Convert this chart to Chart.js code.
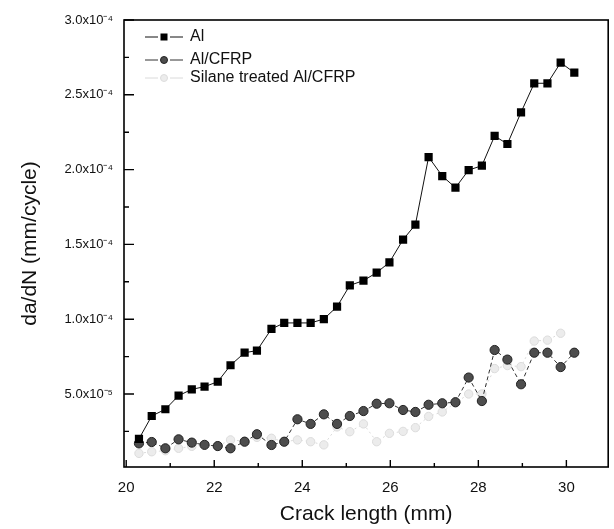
<!DOCTYPE html>
<html>
<head>
<meta charset="utf-8">
<script src="https://cdn.jsdelivr.net/npm/chart.js@4.4.1/dist/chart.umd.min.js"></script>
<style>
  html, body { margin: 0; padding: 0; background: #fff; }
  #wrap { width: 614px; height: 529px; position: relative; }
</style>
</head>
<body>
<div id="wrap"><canvas id="c" width="614" height="529"></canvas></div>
<script>
// ---- data ----
const crackLength = [20.29,20.58,20.89,21.19,21.49,21.78,22.08,22.37,22.69,22.97,23.30,23.59,23.89,24.19,24.49,24.79,25.08,25.39,25.69,25.98,26.29,26.57,26.87,27.18,27.48,27.78,28.08,28.37,28.66,28.97,29.27,29.57,29.87,30.18];
const rateAl = [2.0e-5,3.53e-5,3.98e-5,4.89e-5,5.31e-5,5.49e-5,5.82e-5,6.92e-5,7.76e-5,7.90e-5,9.35e-5,9.75e-5,9.75e-5,9.75e-5,1.001e-4,1.084e-4,1.226e-4,1.258e-4,1.311e-4,1.380e-4,1.532e-4,1.632e-4,2.084e-4,1.957e-4,1.879e-4,1.997e-4,2.026e-4,2.225e-4,2.171e-4,2.383e-4,2.577e-4,2.577e-4,2.715e-4,2.648e-4];
const rateAlCFRP = [1.70e-5,1.79e-5,1.37e-5,1.97e-5,1.75e-5,1.60e-5,1.52e-5,1.37e-5,1.81e-5,2.31e-5,1.59e-5,1.81e-5,3.31e-5,3.00e-5,3.64e-5,3.00e-5,3.53e-5,3.86e-5,4.35e-5,4.38e-5,3.93e-5,3.80e-5,4.28e-5,4.38e-5,4.45e-5,6.10e-5,4.53e-5,7.94e-5,7.30e-5,5.65e-5,7.76e-5,7.76e-5,6.80e-5,7.76e-5];
const rateSilane = [1.03e-5,1.14e-5,1.21e-5,1.37e-5,1.50e-5,1.59e-5,1.52e-5,1.93e-5,1.85e-5,2.10e-5,2.04e-5,1.81e-5,1.93e-5,1.81e-5,1.60e-5,2.80e-5,2.48e-5,3.00e-5,1.81e-5,2.37e-5,2.50e-5,2.75e-5,3.50e-5,3.80e-5,4.40e-5,5.00e-5,5.00e-5,6.70e-5,6.90e-5,6.83e-5,8.54e-5,8.60e-5,9.06e-5,null];
const seriesNames = ['Al', 'Al/CFRP', 'Silane treated Al/CFRP'];
const xTickValues = [20,21,22,23,24,25,26,27,28,29,30];
const xMajorTicks = [20,22,24,26,28,30];
const yTickValues = [2.5e-5,5.0e-5,7.5e-5,1.0e-4,1.25e-4,1.5e-4,1.75e-4,2.0e-4,2.25e-4,2.5e-4,2.75e-4,3.0e-4];
const yMajorTicks = [5.0e-5,1.0e-4,1.5e-4,2.0e-4,2.5e-4,3.0e-4];

const FONT = "'Liberation Sans', Arial, Helvetica, sans-serif";
const SUP = {'-':'\u207B','0':'\u2070','1':'\u00B9','2':'\u00B2','3':'\u00B3','4':'\u2074','5':'\u2075','6':'\u2076','7':'\u2077','8':'\u2078','9':'\u2079'};
function sciLabel(v) {
  const e = Math.floor(Math.log10(v) + 1e-9);
  const m = v / Math.pow(10, e);
  return m.toFixed(1) + 'x10' + String(e).split('').map(c => SUP[c]).join('');
}
function isMajor(list, v) { return list.some(t => Math.abs(t - v) < Math.abs(t) * 1e-6 + 1e-12); }

const pts = arr => crackLength.map((x, i) => ({x, y: arr[i]}));

const frameTicks = {
  id: 'frameTicks',
  afterDraw(chart) {
    const {ctx, chartArea: a, scales} = chart;
    ctx.save();
    ctx.strokeStyle = '#000';
    ctx.lineWidth = 1.6;
    ctx.strokeRect(a.left, a.top, a.right - a.left, a.bottom - a.top);
    ctx.lineWidth = 1.4;
    ctx.beginPath();
    scales.x.ticks.forEach(t => {
      const px = scales.x.getPixelForValue(t.value);
      const len = isMajor(xMajorTicks, t.value) ? 7 : 4;
      ctx.moveTo(px, a.bottom); ctx.lineTo(px, a.bottom - len);
    });
    scales.y.ticks.forEach(t => {
      const py = scales.y.getPixelForValue(t.value);
      const len = isMajor(yMajorTicks, t.value) ? 10 : 5;
      ctx.moveTo(a.left, py); ctx.lineTo(a.left + len, py);
    });
    ctx.stroke();
    ctx.restore();
  }
};

const insideLegend = {
  id: 'insideLegend',
  afterDraw(chart) {
    const {ctx, chartArea: a} = chart;
    const rows = [a.top + 17, a.top + 40, a.top + 58];
    ctx.save();
    chart.data.datasets.forEach((ds, i) => {
      const y = rows[i];
      const x1 = a.left + 21, x2 = a.left + 59, xm = (x1 + x2) / 2;
      ctx.strokeStyle = ds.borderColor;
      ctx.lineWidth = 1;
      ctx.setLineDash([]);
      ctx.beginPath();
      ctx.moveTo(x1, y); ctx.lineTo(xm - 6, y);
      ctx.moveTo(xm + 6, y); ctx.lineTo(x2, y);
      ctx.stroke();
      ctx.fillStyle = ds.pointBackgroundColor;
      ctx.strokeStyle = ds.pointBorderColor;
      if (ds.pointStyle === 'rect') {
        ctx.fillRect(xm - 3.5, y - 3.5, 7, 7);
      } else {
        ctx.beginPath(); ctx.arc(xm, y, 3.5, 0, Math.PI * 2); ctx.fill(); ctx.stroke();
      }
      ctx.fillStyle = '#111';
      ctx.font = '16px ' + FONT;
      ctx.textBaseline = 'middle';
      ctx.textAlign = 'left';
      ctx.fillText(ds.label, a.left + 66, y);
    });
    ctx.restore();
  }
};

new Chart(document.getElementById('c'), {
  type: 'line',
  data: {
    datasets: [
      { label: seriesNames[0], data: pts(rateAl), borderColor: '#111', borderWidth: 1,
        pointStyle: 'rect', pointRadius: 5.8, pointBackgroundColor: '#000', pointBorderColor: '#000', pointBorderWidth: 0 },
      { label: seriesNames[1], data: pts(rateAlCFRP), borderColor: '#333', borderWidth: 1, borderDash: [4, 3],
        pointStyle: 'circle', pointRadius: 4.6, pointBackgroundColor: '#4d4d4d', pointBorderColor: '#222', pointBorderWidth: 1 },
      { label: seriesNames[2], data: pts(rateSilane), borderColor: '#dadada', borderWidth: 1, borderDash: [2, 3],
        pointStyle: 'circle', pointRadius: 4.2, pointBackgroundColor: '#ececec', pointBorderColor: '#dcdcdc', pointBorderWidth: 1 }
    ]
  },
  options: {
    responsive: false,
    animation: false,
    devicePixelRatio: 1,
    layout: { padding: { top: 20, right: 4, left: 0, bottom: 0 } },
    plugins: { legend: { display: false }, tooltip: { enabled: false } },
    elements: { line: { tension: 0 } },
    scales: {
      x: {
        type: 'linear', min: 19.95, max: 30.95,
        afterBuildTicks: s => { s.ticks = xTickValues.map(v => ({value: v})); },
        afterFit: s => { s.height = 62; },
        grid: { display: false, drawTicks: false },
        border: { display: false },
        ticks: { padding: 12, color: '#111', font: { family: FONT, size: 15 }, maxRotation: 0, autoSkip: false,
          callback: v => isMajor(xMajorTicks, v) ? String(v) : '' },
        title: { display: true, text: 'Crack length (mm)', color: '#111', font: { family: FONT, size: 21 }, padding: { top: 0, bottom: 2 } }
      },
      y: {
        type: 'linear', min: 1.2e-6, max: 3.0e-4,
        afterBuildTicks: s => { s.ticks = yTickValues.map(v => ({value: v})); },
        afterFit: s => { s.width = 124; },
        grid: { display: false, drawTicks: false },
        border: { display: false },
        ticks: { padding: 11, color: '#111', font: { family: FONT, size: 13 }, autoSkip: false,
          callback: v => isMajor(yMajorTicks, v) ? sciLabel(v) : '' },
        title: { display: true, text: 'da/dN (mm/cycle)', color: '#111', font: { family: FONT, size: 21 }, padding: { top: 18, bottom: 0 } }
      }
    }
  },
  plugins: [frameTicks, insideLegend]
});
</script>
</body>
</html>
